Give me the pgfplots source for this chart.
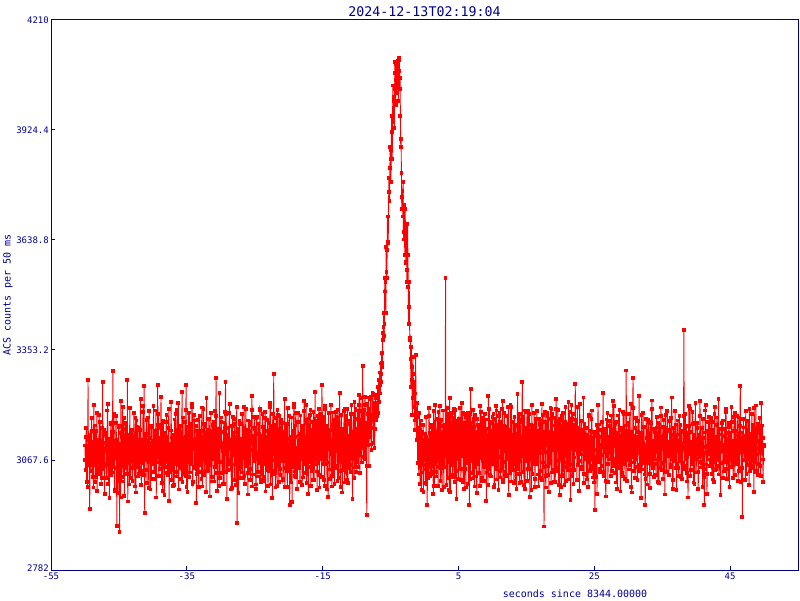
\documentclass[border=0pt]{standalone}
\usepackage{pgfplots}
\pgfplotsset{compat=1.18}
\usepackage{pgfplotstable}
\usepackage{fontspec}
\newfontfamily\mono{DejaVu Sans Mono}
\definecolor{axblue}{RGB}{0,0,139}
\definecolor{datared}{RGB}{255,0,0}
\pgfplotstableread{
x y
-50.00 3105
-49.95 3067
-49.90 3042
-49.85 3128
-49.80 3150
-49.75 3010
-49.70 3071
-49.65 3104
-49.60 2998
-49.55 3275
-49.50 3120
-49.45 3055
-49.40 3063
-49.35 3126
-49.30 2940
-49.25 3078
-49.20 3132
-49.15 3040
-49.10 3089
-49.05 3142
-49.00 3176
-48.95 3059
-48.90 3024
-48.85 3115
-48.80 3098
-48.75 2996
-48.70 3210
-48.65 3092
-48.60 3055
-48.55 3157
-48.50 3011
-48.45 3068
-48.40 3143
-48.35 3023
-48.30 3080
-48.25 3190
-48.20 2987
-48.15 3091
-48.10 3121
-48.05 3050
-48.00 3068
-47.95 3120
-47.90 3185
-47.85 3042
-47.80 3032
-47.75 3166
-47.70 3102
-47.65 3071
-47.60 3006
-47.55 3109
-47.50 3150
-47.45 3021
-47.40 3270
-47.35 3084
-47.30 3045
-47.25 3147
-47.20 3112
-47.15 3053
-47.10 2979
-47.05 3098
-47.00 3090
-46.95 3131
-46.90 3138
-46.85 3057
-46.80 3020
-46.75 3110
-46.70 3196
-46.65 3212
-46.60 3057
-46.55 3005
-46.50 3115
-46.45 3076
-46.40 2968
-46.35 3123
-46.30 3083
-46.25 3032
-46.20 3162
-46.15 3165
-46.10 3029
-46.05 3066
-46.00 3141
-45.95 3035
-45.90 3298
-45.85 3140
-45.80 3050
-45.75 3187
-45.70 3117
-45.65 2988
-45.60 2990
-45.55 3109
-45.50 3073
-45.45 3164
-45.40 3182
-45.35 3046
-45.30 2896
-45.25 3120
-45.20 3104
-45.15 2982
-45.10 3040
-45.05 3153
-45.00 3156
-44.95 3059
-44.90 2881
-44.85 3110
-44.80 3093
-44.75 2970
-44.70 3220
-44.65 3138
-44.60 3012
-44.55 3080
-44.50 3128
-44.45 3205
-44.40 3061
-44.35 3023
-44.30 3176
-44.25 3117
-44.20 2975
-44.15 3064
-44.10 3110
-44.05 3161
-44.00 3047
-43.95 3148
-43.90 3165
-43.85 3032
-43.80 3085
-43.75 3275
-43.70 2960
-43.65 3067
-43.60 3134
-43.55 3105
-43.50 3078
-43.45 3004
-43.40 3203
-43.35 3122
-43.30 3021
-43.25 3064
-43.20 3099
-43.15 3139
-43.10 3146
-43.05 3046
-43.00 3014
-42.95 3129
-42.90 3087
-42.85 3055
-42.80 3190
-42.75 3108
-42.70 3052
-42.65 2999
-42.60 3123
-42.55 3177
-42.50 2983
-42.45 3086
-42.40 3170
-42.35 3048
-42.30 3066
-42.25 3154
-42.20 3108
-42.15 3025
-42.10 3031
-42.05 3118
-42.00 3152
-41.95 3047
-41.90 3075
-41.85 3145
-41.80 3226
-41.75 3039
-41.70 3003
-41.65 3121
-41.60 3118
-41.55 3072
-41.50 3060
-41.45 3208
-41.40 3192
-41.35 3029
-41.30 3260
-41.25 3105
-41.20 2930
-41.15 3136
-41.10 3097
-41.05 3068
-41.00 3135
-40.95 3171
-40.90 3041
-40.85 3008
-40.80 3089
-40.75 3132
-40.70 3178
-40.65 3073
-40.60 2995
-40.55 3194
-40.50 3124
-40.45 3087
-40.40 3070
-40.35 2991
-40.30 3157
-40.25 3109
-40.20 3019
-40.15 3153
-40.10 3101
-40.05 3056
-40.00 3063
-39.95 3110
-39.90 3208
-39.85 3036
-39.80 3036
-39.75 3142
-39.70 3114
-39.65 3019
-39.60 3082
-39.55 3196
-39.50 2970
-39.45 3092
-39.40 3145
-39.35 3061
-39.30 3262
-39.25 3159
-39.20 3187
-39.15 3074
-39.10 3026
-39.05 3124
-39.00 3117
-38.95 3044
-38.90 3093
-38.85 3151
-38.80 3232
-38.75 3069
-38.70 3008
-38.65 3116
-38.60 3160
-38.55 2987
-38.50 3049
-38.45 3169
-38.40 3101
-38.35 3085
-38.30 2977
-38.25 3133
-38.20 3139
-38.15 3050
-38.10 3072
-38.05 3166
-38.00 3184
-37.95 3081
-37.90 3033
-37.85 3127
-37.80 3095
-37.75 3029
-37.70 3151
-37.65 3200
-37.60 2962
-37.55 3068
-37.50 3110
-37.45 3035
-37.40 3067
-37.35 3144
-37.30 3219
-37.25 3015
-37.20 3044
-37.15 3126
-37.10 3128
-37.05 3062
-37.00 3001
-36.95 3133
-36.90 3086
-36.85 3002
-36.80 3173
-36.75 3105
-36.70 3058
-36.65 3188
-36.60 3120
-36.55 3036
-36.50 3025
-36.45 3120
-36.40 3198
-36.35 3054
-36.30 3079
-36.25 3216
-36.20 2991
-36.15 3093
-36.10 3147
-36.05 3047
-36.00 3062
-35.95 3155
-35.90 3134
-35.85 3053
-35.80 3018
-35.75 3124
-35.70 3245
-35.65 3010
-35.60 3091
-35.55 3178
-35.50 3040
-35.45 3072
-35.40 3113
-35.35 3030
-35.30 3166
-35.25 3119
-35.20 3027
-35.15 3198
-35.10 3262
-35.05 2998
-35.00 3153
-34.95 3066
-34.90 2984
-34.85 3140
-34.80 3107
-34.75 3190
-34.70 3069
-34.65 3023
-34.60 3191
-34.55 3102
-34.50 3035
-34.45 3161
-34.40 3126
-34.35 3058
-34.30 3080
-34.25 3206
-34.20 3214
-34.15 3006
-34.10 3010
-34.05 3119
-34.00 3098
-33.95 3184
-33.90 3170
-33.85 3049
-33.80 3046
-33.75 3095
-33.70 3122
-33.65 3156
-33.60 2956
-33.55 3067
-33.50 3143
-33.45 3032
-33.40 3075
-33.35 3171
-33.30 3109
-33.25 2997
-33.20 3037
-33.15 3130
-33.10 3181
-33.05 3070
-33.00 3054
-32.95 3143
-32.90 3118
-32.85 3018
-32.80 3204
-32.75 3120
-32.70 2999
-32.65 3067
-32.60 3092
-32.55 3199
-32.50 3161
-32.45 3038
-32.40 3028
-32.35 3156
-32.30 3137
-32.25 3090
-32.20 3071
-32.15 2984
-32.10 3228
-32.05 3112
-32.00 3039
-31.95 3147
-31.90 3106
-31.85 3041
-31.80 3066
-31.75 3173
-31.70 3174
-31.65 3094
-31.60 2973
-31.55 3054
-31.50 3129
-31.45 3190
-31.40 3088
-31.35 3024
-31.30 3012
-31.25 3136
-31.20 3158
-31.15 3069
-31.10 3094
-31.05 3167
-31.00 3133
-30.95 3012
-30.90 3050
-30.85 3134
-30.80 3195
-30.75 3055
-30.70 3280
-30.65 3182
-30.60 3115
-30.55 3033
-30.50 2988
-30.45 3145
-30.40 3148
-30.35 3097
-30.30 3061
-30.25 3000
-30.20 3242
-30.15 3125
-30.10 3021
-30.05 3149
-30.00 3100
-29.95 3178
-29.90 3167
-29.85 3062
-29.80 3034
-29.75 3111
-29.70 3091
-29.65 3006
-29.60 3140
-29.55 3165
-29.50 3005
-29.45 3084
-29.40 3119
-29.35 3193
-29.30 3270
-29.25 3036
-29.20 3186
-29.15 3106
-29.10 2967
-29.05 3132
-29.00 3125
-28.95 3041
-28.90 3058
-28.85 3150
-28.80 3102
-28.75 3189
-28.70 3212
-28.65 3067
-28.60 3043
-28.55 3120
-28.50 3097
-28.45 2991
-28.40 3155
-28.35 3106
-28.30 2994
-28.25 3179
-28.20 3081
-28.15 3132
-28.10 3139
-28.05 3056
-28.00 3016
-27.95 3161
-27.90 3174
-27.85 3087
-27.80 3064
-27.75 3002
-27.70 3118
-27.65 3205
-27.60 2905
-27.55 3065
-27.50 3131
-27.45 3149
-27.40 2981
-27.35 3044
-27.30 3088
-27.25 3170
-27.20 3162
-27.15 3020
-27.10 3048
-27.05 3123
-27.00 3107
-26.95 3070
-26.90 3035
-26.85 3187
-26.80 3188
-26.75 3021
-26.70 3072
-26.65 3106
-26.60 3145
-26.55 3206
-26.50 3026
-26.45 3005
-26.40 3096
-26.35 3134
-26.30 3201
-26.25 3053
-26.20 3059
-26.15 3147
-26.10 3121
-26.05 3033
-26.00 2978
-25.95 3170
-25.90 3142
-25.85 3045
-25.80 3083
-25.75 3158
-25.70 3166
-25.65 3016
-25.60 3045
-25.55 3119
-25.50 3110
-25.45 3198
-25.40 3233
-25.35 2999
-25.30 3030
-25.25 3131
-25.20 3093
-25.15 3066
-25.10 3152
-25.05 3179
-25.00 3069
-24.95 3148
-24.90 3120
-24.85 3004
-24.80 2992
-24.75 3176
-24.70 3179
-24.65 3071
-24.60 3087
-24.55 3025
-24.50 3037
-24.45 3162
-24.40 3136
-24.35 3059
-24.30 3064
-24.25 3201
-24.20 3197
-24.15 3017
-24.10 3011
-24.05 3129
-24.00 3114
-23.95 3032
-23.90 3060
-23.85 3187
-23.80 3154
-23.75 3013
-23.70 3023
-23.65 3150
-23.60 3105
-23.55 3058
-23.50 3176
-23.45 3193
-23.40 2986
-23.35 3099
-23.30 3127
-23.25 3047
-23.20 3078
-23.15 3171
-23.10 3143
-23.05 3000
-23.00 3041
-22.95 3142
-22.90 3163
-22.85 3040
-22.80 3097
-22.75 3205
-22.70 3215
-22.65 3004
-22.60 3052
-22.55 3156
-22.50 3118
-22.45 3067
-22.40 2969
-22.35 3188
-22.30 3084
-22.25 3120
-22.20 3290
-22.15 3039
-22.10 3032
-22.05 3160
-22.00 3130
-21.95 2996
-21.90 3072
-21.85 3177
-21.80 3104
-21.75 3053
-21.70 3001
-21.65 3198
-21.60 3185
-21.55 3079
-21.50 3057
-21.45 3010
-21.40 3149
-21.35 3181
-21.30 3092
-21.25 3045
-21.20 3028
-21.15 3150
-21.10 3171
-21.05 3072
-21.00 3065
-20.95 3163
-20.90 3138
-20.85 3015
-20.80 3019
-20.75 3140
-20.70 3109
-20.65 3064
-20.60 3226
-20.55 2998
-20.50 3080
-20.45 3157
-20.40 3046
-20.35 3114
-20.30 3161
-20.25 3039
-20.20 2997
-20.15 3202
-20.10 3123
-20.05 3057
-20.00 3090
-19.95 3044
-19.90 3182
-19.85 2950
-19.80 3053
-19.75 3099
-19.70 3128
-19.65 3009
-19.60 3074
-19.55 3178
-19.50 2958
-19.45 3137
-19.40 3144
-19.35 3050
-19.30 3104
-19.25 3213
-19.20 3206
-19.15 3026
-19.10 3038
-19.05 3128
-19.00 3157
-18.95 3190
-18.90 3023
-18.85 3087
-18.80 3099
-18.75 2993
-18.70 3070
-18.65 3166
-18.60 3189
-18.55 3046
-18.50 3047
-18.45 3131
-18.40 3116
-18.35 3012
-18.30 3010
-18.25 3183
-18.20 3135
-18.15 3071
-18.10 3082
-18.05 3156
-18.00 3003
-17.95 3135
-17.90 3150
-17.85 3022
-17.80 3067
-17.75 3194
-17.70 3221
-17.65 3056
-17.60 3095
-17.55 3128
-17.50 3034
-17.45 3211
-17.40 3172
-17.35 3007
-17.30 3061
-17.25 3163
-17.20 3119
-17.15 3065
-17.10 2980
-17.05 3174
-17.00 3126
-16.95 3062
-16.90 3085
-16.85 3185
-16.80 3197
-16.75 3001
-16.70 3049
-16.65 3147
-16.60 3103
-16.55 3040
-16.50 3166
-16.45 3086
-16.40 3015
-16.35 3192
-16.30 3137
-16.25 3015
-16.20 3076
-16.15 3169
-16.10 3244
-16.05 3073
-16.00 3056
-15.95 3158
-15.90 3112
-15.85 3038
-15.80 2989
-15.75 3181
-15.70 3148
-15.65 3060
-15.60 3093
-15.55 3200
-15.50 3029
-15.45 2996
-15.40 3184
-15.35 3107
-15.30 3071
-15.25 3186
-15.20 3133
-15.15 3024
-15.10 3262
-15.05 3145
-15.00 3170
-14.95 3058
-14.90 3079
-14.85 3179
-14.80 3121
-14.75 3016
-14.70 3000
-14.65 3207
-14.60 3199
-14.55 3083
-14.50 3058
-14.45 3155
-14.40 3108
-14.35 2991
-14.30 3154
-14.25 3061
-14.20 2972
-14.15 3189
-14.10 3096
-14.05 3133
-14.00 3136
-13.95 3018
-13.90 3043
-13.85 3146
-13.80 3210
-13.75 3097
-13.70 3083
-13.65 2999
-13.60 3027
-13.55 3191
-13.50 3159
-13.45 3034
-13.40 3065
-13.35 3173
-13.30 3118
-13.25 3006
-13.20 3191
-13.15 3090
-13.10 3052
-13.05 3193
-13.00 3101
-12.95 3179
-12.90 3178
-12.85 3046
-12.80 3014
-12.75 3198
-12.70 3127
-12.65 3020
-12.60 3086
-12.55 3136
-12.50 3241
-12.45 3066
-12.40 3039
-12.35 2998
-12.30 3143
-12.25 3185
-12.20 3062
-12.15 3148
-12.10 2983
-12.05 3105
-12.00 3147
-11.95 3041
-11.90 3073
-11.85 3195
-11.80 3115
-11.75 3009
-11.70 3200
-11.65 3080
-11.60 3036
-11.55 3182
-11.50 3095
-11.45 3015
-11.40 3164
-11.35 3200
-11.30 3008
-11.25 3099
-11.20 3129
-11.15 3047
-11.10 3081
-11.05 3168
-11.00 3054
-10.95 3162
-10.90 3187
-10.85 3036
-10.80 3105
-10.75 3211
-10.70 3140
-10.65 3072
-10.60 2966
-10.55 3141
-10.50 3120
-10.45 3188
-10.40 3077
-10.35 3020
-10.30 3218
-10.25 3115
-10.20 3048
-10.15 3199
-10.10 3133
-10.05 3036
-10.00 3111
-9.95 3148
-9.90 3063
-9.85 3196
-9.80 3174
-9.75 3049
-9.70 3092
-9.65 3210
-9.60 3237
-9.55 3081
-9.50 3034
-9.45 3173
-9.40 3156
-9.35 3228
-9.30 3102
-9.25 3061
-9.20 3195
-9.15 3140
-9.10 3311
-9.05 3105
-9.00 3075
-8.95 3198
-8.90 3148
-8.85 3069
-8.80 3210
-8.75 3232
-8.70 3069
-8.65 3130
-8.60 3165
-8.55 3051
-8.50 2925
-8.45 3214
-8.40 3127
-8.35 3107
-8.30 3186
-8.25 3230
-8.20 3052
-8.15 3145
-8.10 3201
-8.05 3128
-8.00 3133
-7.95 3232
-7.90 3225
-7.85 3108
-7.80 3094
-7.75 3185
-7.70 3170
-7.65 3241
-7.60 3240
-7.55 3150
-7.50 3112
-7.45 3217
-7.40 3196
-7.35 3099
-7.30 3148
-7.25 3237
-7.20 3228
-7.15 3180
-7.10 3172
-7.05 3208
-7.00 3215
-6.95 3182
-6.90 3258
-6.85 3230
-6.80 3190
-6.75 3275
-6.70 3250
-6.65 3218
-6.60 3295
-6.55 3262
-6.50 3240
-6.45 3318
-6.40 3290
-6.35 3270
-6.30 3345
-6.25 3320
-6.20 3310
-6.15 3398
-6.10 3380
-6.05 3412
-6.00 3449
-5.95 3390
-5.90 3420
-5.85 3540
-5.80 3505
-5.75 3530
-5.70 3450
-5.65 3620
-5.60 3556
-5.55 3540
-5.50 3613
-5.45 3700
-5.40 3633
-5.35 3630
-5.30 3700
-5.25 3800
-5.20 3763
-5.15 3740
-5.10 3826
-5.05 3880
-5.00 3872
-4.95 3790
-4.90 3850
-4.85 3960
-4.80 3920
-4.75 3850
-4.70 3960
-4.65 4040
-4.60 3945
-4.55 4000
-4.50 4010
-4.45 3930
-4.40 4030
-4.35 4100
-4.30 4072
-4.25 3990
-4.20 4055
-4.15 4095
-4.10 4090
-4.05 4020
-4.00 4085
-3.95 4103
-3.90 4100
-3.85 4000
-3.80 4078
-3.75 4106
-3.70 4111
-3.65 4030
-3.60 4060
-3.55 3960
-3.50 3880
-3.45 3900
-3.40 3813
-3.35 3720
-3.30 3750
-3.25 3765
-3.20 3700
-3.15 3790
-3.10 3660
-3.05 3640
-3.00 3730
-2.95 3657
-2.90 3600
-2.85 3720
-2.80 3650
-2.75 3582
-2.70 3580
-2.65 3680
-2.60 3530
-2.55 3560
-2.50 3680
-2.45 3600
-2.40 3517
-2.35 3420
-2.30 3465
-2.25 3530
-2.20 3420
-2.15 3380
-2.10 3384
-2.05 3330
-2.00 3258
-1.95 3360
-1.90 3310
-1.85 3275
-1.80 3184
-1.75 3290
-1.70 3335
-1.65 3228
-1.60 3250
-1.55 3205
-1.50 3270
-1.45 3170
-1.40 3145
-1.35 3240
-1.30 3340
-1.25 3185
-1.20 3200
-1.15 3120
-1.10 3180
-1.05 3215
-1.00 3060
-0.95 3145
-0.90 3150
-0.85 3030
-0.80 3110
-0.75 3190
-0.70 3145
-0.65 3005
-0.60 3080
-0.55 3170
-0.50 3125
-0.45 2990
-0.40 3035
-0.35 3140
-0.30 3100
-0.25 3055
-0.20 3158
-0.15 2985
-0.10 3070
-0.05 3120
0.00 3092
0.05 3135
0.10 3043
0.15 3008
0.20 3128
0.25 3180
0.30 3005
0.35 3064
0.40 2950
0.45 3119
0.50 3117
0.55 3021
0.60 3069
0.65 3202
0.70 3181
0.75 3055
0.80 3026
0.85 3138
0.90 3104
0.95 3032
1.00 3152
1.05 3036
1.10 3058
1.15 3159
1.20 3097
1.25 3061
1.30 2979
1.35 3195
1.40 3142
1.45 3000
1.50 3075
1.55 3133
1.60 3210
1.65 3088
1.70 3037
1.75 3025
1.80 3118
1.85 3174
1.90 3066
1.95 3120
2.00 3001
2.05 3193
2.10 3134
2.15 3049
2.20 3084
2.25 3207
2.30 3169
2.35 3014
2.40 3047
2.45 3171
2.50 3109
2.55 3050
2.60 2990
2.65 3136
2.70 3155
2.75 3196
2.80 3072
2.85 2998
2.90 3125
2.95 3156
3.00 3050
3.05 3160
3.10 3540
3.15 3077
3.20 3092
3.25 3002
3.30 3186
3.35 3203
3.40 3021
3.45 3088
3.50 3113
3.55 3179
3.60 3062
3.65 2990
3.70 3228
3.75 3112
3.80 2985
3.85 3182
3.90 3140
3.95 3054
4.00 3078
4.05 3190
4.10 3161
4.15 3024
4.20 3030
4.25 3178
4.30 3103
4.35 3066
4.40 3199
4.45 3010
4.50 3055
4.55 3197
4.60 3124
4.65 3039
4.70 2967
4.75 3163
4.80 3147
4.85 3071
4.90 3089
4.95 3169
5.00 3019
5.05 3174
5.10 3170
5.15 3055
5.20 3081
5.25 3202
5.30 3136
5.35 3016
5.40 3044
5.45 3166
5.50 3215
5.55 3077
5.60 3098
5.65 3190
5.70 3010
5.75 3125
5.80 3163
5.85 2993
5.90 3071
5.95 3186
6.00 3127
6.05 3044
6.10 2996
6.15 3178
6.20 3153
6.25 3089
6.30 3060
6.35 3189
6.40 3108
6.45 3005
6.50 3187
6.55 3080
6.60 2950
6.65 3186
6.70 3119
6.75 3019
6.80 3252
6.85 3121
6.90 3066
6.95 3165
7.00 3145
7.05 3033
7.10 3082
7.15 3197
7.20 3020
7.25 3153
7.30 3174
7.35 2999
7.40 3101
7.45 3184
7.50 3049
7.55 3140
7.60 3132
7.65 3025
7.70 2982
7.75 3174
7.80 3093
7.85 3057
7.90 3158
7.95 3110
8.00 3034
8.05 3159
8.10 3115
8.15 3001
8.20 3207
8.25 3082
8.30 3073
8.35 3193
8.40 3140
8.45 3020
8.50 3012
8.55 3178
8.60 3096
8.65 3064
8.70 3178
8.75 3013
8.80 3055
8.85 3187
8.90 3121
8.95 3049
9.00 3087
9.05 3173
9.10 2961
9.15 3104
9.20 3148
9.25 3035
9.30 3106
9.35 3002
9.40 3234
9.45 3130
9.50 3043
9.55 3199
9.60 3164
9.65 3028
9.70 3077
9.75 3167
9.80 3025
9.85 3142
9.90 3130
9.95 3066
10.00 3179
10.05 3057
10.10 3061
10.15 3188
10.20 3110
10.25 2998
10.30 3004
10.35 3175
10.40 3142
10.45 3044
10.50 3085
10.55 3208
10.60 3196
10.65 3017
10.70 3051
10.75 3160
10.80 3123
10.85 3076
10.90 2989
10.95 3181
11.00 3100
11.05 3189
11.10 3167
11.15 3022
11.20 3039
11.25 3163
11.30 3137
11.35 3043
11.40 3074
11.45 3200
11.50 3221
11.55 3010
11.60 3016
11.65 3155
11.70 3091
11.75 3189
11.80 3154
11.85 3037
11.90 3063
11.95 3146
12.00 3118
12.05 3026
12.10 3029
12.15 3182
12.20 3183
12.25 3077
12.30 3070
12.35 3205
12.40 2977
12.45 3093
12.50 3146
12.55 3034
12.60 3101
12.65 3210
12.70 3048
12.75 3012
12.80 3206
12.85 3133
12.90 3083
12.95 3050
13.00 3041
13.05 3166
13.10 3129
13.15 3008
13.20 3094
13.25 3180
13.30 3160
13.35 3057
13.40 3013
13.45 3156
13.50 3112
13.55 2993
13.60 3068
13.65 3135
13.70 3238
13.75 3045
13.80 3056
13.85 3184
13.90 3139
13.95 3032
14.00 3007
14.05 3188
14.10 3172
14.15 3066
14.20 3087
14.25 3010
14.30 3122
14.35 3165
14.40 3270
14.45 3098
14.50 3036
14.55 3180
14.60 3150
14.65 3002
14.70 3079
14.75 3196
14.80 2993
14.85 3140
14.90 3114
14.95 3078
15.00 3065
15.05 3150
15.10 3193
15.15 3013
15.20 3045
15.25 3196
15.30 3103
15.35 3045
15.40 3158
15.45 3188
15.50 2971
15.55 3094
15.60 3127
15.65 3159
15.70 3084
15.75 2990
15.80 3211
15.85 3085
15.90 3032
15.95 3157
16.00 3149
16.05 3056
16.10 3076
16.15 3189
16.20 3120
16.25 2998
16.30 3018
16.35 3166
16.40 3175
16.45 3062
16.50 3091
16.55 3195
16.60 3056
16.65 3144
16.70 3143
16.75 3030
16.80 2999
16.85 3175
16.90 3108
16.95 3086
17.00 3162
17.05 3020
17.10 3040
17.15 3168
17.20 3099
17.25 3126
17.30 3213
17.35 3015
17.40 3061
17.45 3185
17.50 3131
17.55 3050
17.60 2895
17.65 3141
17.70 3088
17.75 3192
17.80 3166
17.85 2996
17.90 3027
17.95 3157
18.00 3105
18.05 3189
18.10 3181
18.15 3029
18.20 3053
18.25 3174
18.30 2985
18.35 3122
18.40 3141
18.45 3060
18.50 3072
18.55 3202
18.60 3118
18.65 3007
18.70 3200
18.75 3105
18.80 3035
18.85 3186
18.90 3094
18.95 3138
19.00 3135
19.05 3041
19.10 3010
19.15 3177
19.20 3157
19.25 3011
19.30 3080
19.35 3200
19.40 3226
19.45 3038
19.50 3047
19.55 3161
19.60 3113
19.65 3198
19.70 3064
19.75 3002
19.80 3170
19.85 3115
19.90 2976
19.95 3175
20.00 3091
20.05 3170
20.10 3144
20.15 2997
20.20 3026
20.25 3183
20.30 3117
20.35 3028
20.40 3059
20.45 3190
20.50 3189
20.55 3061
20.60 3002
20.65 3167
20.70 3128
20.75 3206
20.80 3083
20.85 3014
20.90 3153
20.95 3091
21.00 3049
21.05 3161
21.10 3106
21.15 3042
21.20 3219
21.25 3017
21.30 3067
21.35 3193
21.40 3134
21.45 3056
21.50 2964
21.55 3166
21.60 3095
21.65 3210
21.70 3175
21.75 3026
21.80 3041
21.85 3187
21.90 3121
21.95 3005
22.00 3160
22.05 3041
22.10 3074
22.15 3128
22.20 3265
22.25 3093
22.30 3147
22.35 3172
22.40 3098
22.45 3015
22.50 3205
22.55 3106
22.60 3055
22.65 3150
22.70 3114
22.75 3066
22.80 2988
22.85 3212
22.90 3137
22.95 3083
23.00 3082
23.05 3119
23.10 3168
23.15 3050
23.20 3044
23.25 3145
23.30 3102
23.35 3097
23.40 3230
23.45 3008
23.50 3031
23.55 3161
23.60 3125
23.65 3074
23.70 3070
23.75 3133
23.80 3150
23.85 3029
23.90 3017
23.95 3110
24.00 3124
24.05 3066
24.10 2997
24.15 3181
24.20 3185
24.25 3095
24.30 3063
24.35 3040
24.40 3111
24.45 3143
24.50 3045
24.55 3079
24.60 3174
24.65 3196
24.70 3086
24.75 3052
24.80 3022
24.85 3117
24.90 3140
24.95 3009
25.00 3058
25.05 3135
25.10 2937
25.15 3072
25.20 3076
25.25 3024
25.30 3130
25.35 3158
25.40 2980
25.45 3093
25.50 3119
25.55 3210
25.60 3066
25.65 3061
25.70 3160
25.75 3127
25.80 3097
25.85 3044
25.90 3036
25.95 3101
26.00 3146
26.05 3080
26.10 3052
26.15 3167
26.20 3112
26.25 3119
26.30 3241
26.35 3036
26.40 3027
26.45 3149
26.50 3089
26.55 3096
26.60 3137
26.65 3013
26.70 2973
26.75 3138
26.80 3173
26.85 3077
26.90 3079
26.95 3190
27.00 3011
27.05 3057
27.10 3128
27.15 3123
27.20 3069
27.25 3168
27.30 3155
27.35 3090
27.40 3093
27.45 3027
27.50 3183
27.55 3146
27.60 3040
27.65 3085
27.70 3116
27.75 3220
27.80 3062
27.85 3052
27.90 3208
27.95 3111
28.00 3103
28.05 3162
28.10 3034
28.15 3070
28.20 3166
28.25 3009
28.30 3081
28.35 3131
28.40 2992
28.45 3099
28.50 3139
28.55 3183
28.60 3074
28.65 3047
28.70 3197
28.75 3115
28.80 3050
28.85 2986
28.90 3121
28.95 3146
29.00 3072
29.05 3034
29.10 3152
29.15 3126
29.20 3025
29.25 3192
29.30 3108
29.35 3064
29.40 3186
29.45 3110
29.50 3057
29.55 3018
29.60 3136
29.65 3157
29.70 3300
29.75 3081
29.80 3014
29.85 3144
29.90 3095
29.95 3068
30.00 3164
30.05 3109
30.10 3043
30.15 3186
30.20 3120
30.25 3055
30.30 3078
30.35 3123
30.40 3212
30.45 2997
30.50 2983
30.55 3141
30.60 3098
30.65 3076
30.70 3280
30.75 3203
30.80 3061
30.85 3040
30.90 3130
30.95 3092
31.00 3020
31.05 3150
31.10 3177
31.15 3071
31.20 3085
31.25 3128
31.30 3049
31.35 3016
31.40 3141
31.45 3169
31.50 3106
31.55 3085
31.60 3233
31.65 3054
31.70 3039
31.75 3138
31.80 3115
31.85 3098
31.90 2968
31.95 3185
32.00 3138
32.05 3043
32.10 3066
32.15 3112
32.20 3190
32.25 3059
32.30 3094
32.35 3154
32.40 3030
32.45 3106
32.50 2950
32.55 3019
32.60 3073
32.65 3174
32.70 3125
32.75 3092
32.80 3004
32.85 3137
32.90 3171
32.95 3060
33.00 3084
33.05 3167
33.10 3117
33.15 3032
33.20 2995
33.25 3126
33.30 3163
33.35 3081
33.40 3058
33.45 3199
33.50 3222
33.55 3063
33.60 3046
33.65 3118
33.70 3102
33.75 3024
33.80 3149
33.85 3090
33.90 3069
33.95 3141
34.00 3112
34.05 3058
34.10 3028
34.15 3152
34.20 3179
34.25 3099
34.30 3088
34.35 3011
34.40 3135
34.45 3163
34.50 3007
34.55 3084
34.60 3160
34.65 3127
34.70 3071
34.75 3046
34.80 3204
34.85 3182
34.90 3042
34.95 3103
35.00 3097
35.05 3125
35.10 3153
35.15 3018
35.20 3060
35.25 3171
35.30 3121
35.35 3066
35.40 2978
35.45 3107
35.50 3184
35.55 3139
35.60 3090
35.65 3035
35.70 3037
35.75 3194
35.80 3143
35.85 3081
35.90 3077
35.95 3114
36.00 3029
36.05 3088
36.10 3168
36.15 3145
36.20 3109
36.25 3050
36.30 3055
36.35 3177
36.40 3230
36.45 3120
36.50 3083
36.55 2993
36.60 3015
36.65 3151
36.70 3132
36.75 3072
36.80 3065
36.85 3108
36.90 3195
36.95 3046
37.00 3126
37.05 3160
37.10 2989
37.15 3057
37.20 3100
37.25 3134
37.30 3170
37.35 3093
37.40 3047
37.45 3026
37.50 3116
37.55 3181
37.60 3074
37.65 3101
37.70 3159
37.75 3065
37.80 3023
37.85 3142
37.90 3107
37.95 3019
38.00 3061
38.05 3096
38.10 3140
38.15 3181
38.20 3405
38.25 3044
38.30 3052
38.35 3120
38.40 3188
38.45 3069
38.50 3093
38.55 3155
38.60 3034
38.65 3012
38.70 3127
38.75 3137
38.80 2970
38.85 3084
38.90 3155
38.95 3208
39.00 3086
39.05 3140
39.10 3199
39.15 3027
39.20 3041
39.25 3115
39.30 3113
39.35 3078
39.40 3067
39.45 3193
39.50 3162
39.55 3057
39.60 3009
39.65 3132
39.70 3124
39.75 3005
39.80 3079
39.85 3163
39.90 3216
39.95 3091
40.00 3035
40.05 3071
40.10 3106
40.15 3164
40.20 3150
40.25 3090
40.30 2993
40.35 3037
40.40 3132
40.45 3125
40.50 3075
40.55 3220
40.60 3181
40.65 3063
40.70 3048
40.75 3109
40.80 3118
40.85 3150
40.90 3060
40.95 2998
41.00 3174
41.05 3125
41.10 3024
41.15 3085
41.20 2950
41.25 3045
41.30 3139
41.35 3196
41.40 3210
41.45 3101
41.50 3056
41.55 3032
41.60 2980
41.65 3144
41.70 3103
41.75 3069
41.80 3166
41.85 3117
41.90 3082
41.95 3180
42.00 3119
42.05 3052
42.10 3063
42.15 3140
42.20 3176
42.25 3098
42.30 3031
42.35 3166
42.40 3096
42.45 3017
42.50 3145
42.55 3113
42.60 3010
42.65 3076
42.70 3186
42.75 3205
42.80 3072
42.85 3041
42.90 3128
42.95 3100
43.00 3045
43.05 3178
43.10 3158
43.15 3067
43.20 3087
43.25 3119
43.30 3225
43.35 3030
43.40 3053
43.45 3149
43.50 3111
43.55 3088
43.60 2976
43.65 3059
43.70 3134
43.75 3164
43.80 3090
43.85 3106
43.90 3170
43.95 3020
44.00 3101
44.05 3063
44.10 3038
44.15 3129
44.20 3148
44.25 3086
44.30 3070
44.35 3201
44.40 3192
44.45 3045
44.50 3019
44.55 3137
44.60 3123
44.65 3096
44.70 3081
44.75 3017
44.80 3164
44.85 3154
44.90 2998
44.95 3075
45.00 3137
45.05 3110
45.10 3076
45.15 3048
45.20 3205
45.25 3166
45.30 3049
45.35 3091
45.40 3117
45.45 3021
45.50 3062
45.55 3143
45.60 3180
45.65 3072
45.70 3028
45.75 3189
45.80 3142
45.85 3059
45.90 3095
45.95 3121
46.00 3057
46.05 3181
46.10 3131
46.15 3074
46.20 3014
46.25 3124
46.30 3178
46.35 3040
46.40 3089
46.45 3156
46.50 3260
46.55 3097
46.60 3105
46.65 3010
46.70 3046
46.75 3139
46.80 2920
46.85 3068
46.90 3121
46.95 3175
47.00 3152
47.05 3087
47.10 3067
47.15 3131
47.20 3110
47.25 3016
47.30 3194
47.35 3109
47.40 3032
47.45 3170
47.50 3126
47.55 3055
47.60 3079
47.65 3145
47.70 3168
47.75 3081
47.80 3003
47.85 3199
47.90 3099
47.95 3038
48.00 3135
48.05 3069
48.10 3051
48.15 3112
48.20 3187
48.25 3046
48.30 3084
48.35 3158
48.40 3120
48.45 3094
48.50 2985
48.55 3203
48.60 3147
48.65 3037
48.70 3073
48.75 3121
48.80 3209
48.85 3083
48.90 3040
48.95 3150
49.00 3113
49.05 3143
49.10 3162
49.15 3028
49.20 3058
49.25 3099
49.30 3097
49.35 3176
49.40 3138
49.45 3052
49.50 3027
49.55 3118
49.60 3215
49.65 3090
49.70 3086
49.75 3157
49.80 3125
49.85 3011
49.90 3069
49.95 3106
50.00 3104
}\acsdata
\begin{document}
\begin{tikzpicture}
\path[use as bounding box] (0,0) rectangle (800pt,600pt);
\begin{axis}[
  at={(51pt,30pt)}, anchor=south west,
  scale only axis, width=747pt, height=550pt,
  xmin=-55, xmax=55, ymin=2782, ymax=4210,
  xtick={-55,-35,-15,5,25,45},
  xticklabels={-55,-35,-15,5,25,45},
  ytick={2782,3067.6,3353.2,3638.8,3924.4,4210},
  yticklabels={\raisebox{3pt}{2782},3067.6,3353.2,3638.8,3924.4,4210},
  xtick pos=left, ytick pos=left,
  tick align=inside, major tick length=4pt,
  axis line style={draw=axblue, line width=1pt},
  every tick/.style={draw=axblue, line width=1pt},
  tick label style={text=axblue, font=\mono\fontsize{9}{10}\selectfont},
  yticklabel style={inner sep=2pt},
  xticklabel style={inner sep=2pt, yshift=-1pt},
  title={2024-12-13T02:19:04},
  title style={at={(axis description cs:0.5,1)}, anchor=south, yshift=-4.5pt, inner sep=2pt, text=axblue, font=\mono\fontsize{13.3}{15}\selectfont},
  xlabel={seconds since 8344.00000},
  xlabel style={at={(axis description cs:0.7015,-0.0436)}, anchor=center, text=axblue, font=\mono\fontsize{10}{12}\selectfont},
  ylabel={ACS counts per 50 ms},
  ylabel style={at={(axis description cs:-0.0576,0.5)}, anchor=center, rotate=0, text=axblue, font=\mono\fontsize{10}{12}\selectfont},
]
\addplot[color=datared, line width=0.9pt, mark=square*, mark size=1.4pt, mark options={draw=datared, fill=datared, line width=0pt}] table[x=x, y=y] {\acsdata};
\end{axis}
\end{tikzpicture}
\end{document}
